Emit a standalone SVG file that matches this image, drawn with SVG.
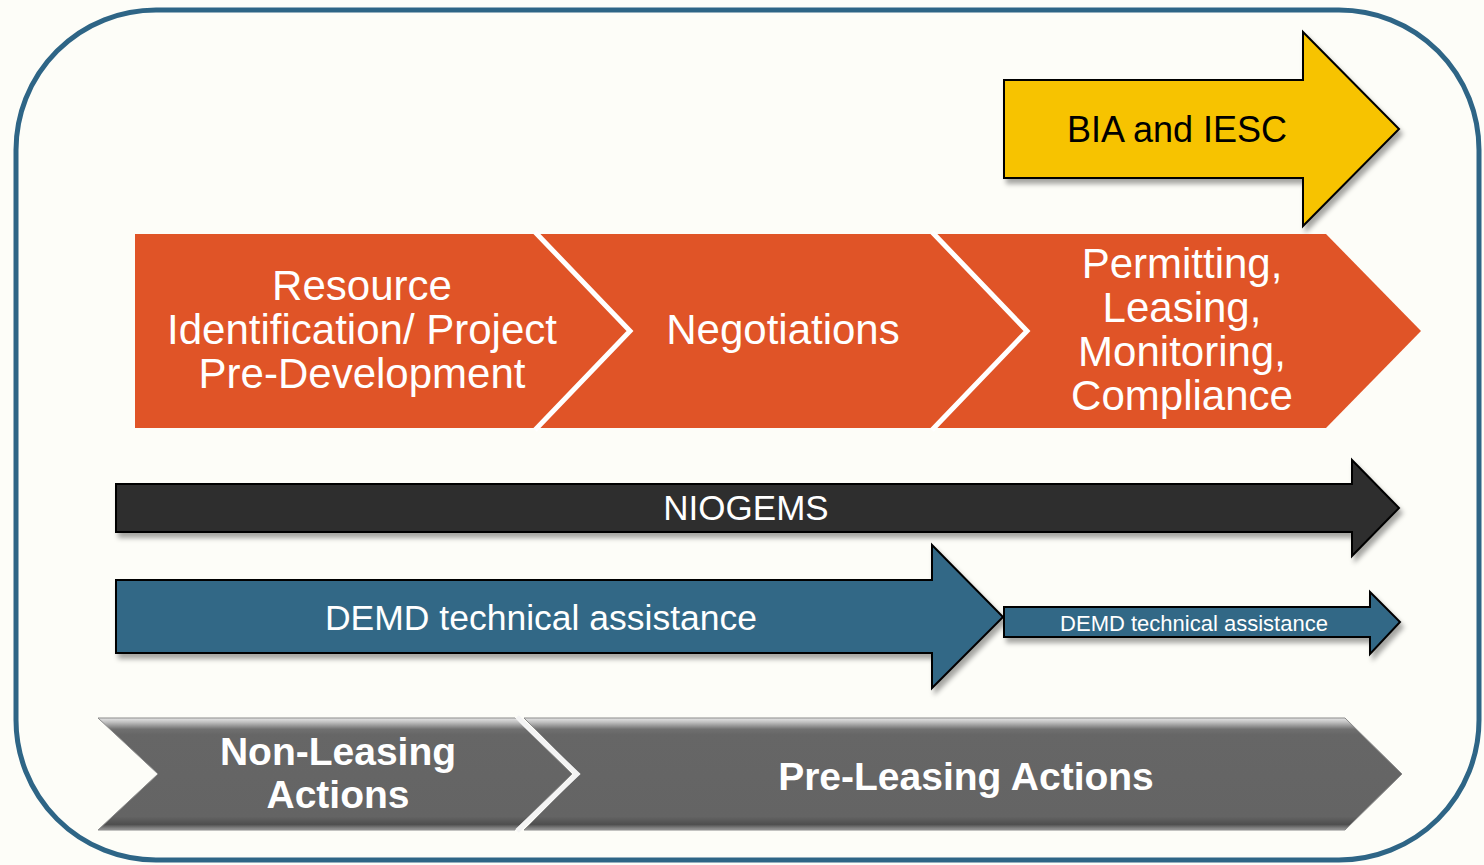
<svg xmlns="http://www.w3.org/2000/svg" width="1484" height="865" viewBox="0 0 1484 865">
<defs>
<filter id="shadow" x="-5%" y="-20%" width="110%" height="150%">
<feDropShadow dx="3" dy="5" stdDeviation="2.5" flood-color="#000" flood-opacity="0.35"/>
</filter>
<linearGradient id="bevel" x1="0" y1="0" x2="0" y2="1">
<stop offset="0" stop-color="#e6e6e6"/>
<stop offset="0.04" stop-color="#bdbdbd"/>
<stop offset="0.1" stop-color="#707070"/>
<stop offset="0.15" stop-color="#666666"/>
<stop offset="0.88" stop-color="#646464"/>
<stop offset="0.95" stop-color="#4e4e4e"/>
<stop offset="1" stop-color="#9a9a9a"/>
</linearGradient>
</defs>
<style>
text{font-family:"Liberation Sans",Arial,sans-serif;text-anchor:middle}
.w{fill:#ffffff}
.b{fill:#000000}
.bold{font-weight:bold}
.arr{stroke:#000;stroke-width:2;stroke-linejoin:miter;filter:url(#shadow)}
.sep{fill:none;stroke:#ffffff;stroke-width:5;stroke-linejoin:miter}
.gsep{fill:none;stroke:#f4f4f4;stroke-width:5;stroke-linejoin:miter}
</style>
<rect x="0" y="0" width="1484" height="865" fill="#FDFDF8"/>
<rect id="frame" x="16" y="10" width="1463" height="850" rx="140" ry="140" fill="#FDFDF8" stroke="#2E6586" stroke-width="5"/>

<g id="bia">
<path class="arr" d="M1004,80 H1303 V32 L1399,129 L1303,226 V178 H1004 Z" fill="#F7C300"/>
<text class="b" x="1177" y="142" font-size="36">BIA and IESC</text>
</g>

<g id="process">
<path d="M135,234 H1326 L1421,331 L1326,428 H135 Z" fill="#E05427"/>
<polyline class="sep" points="535,232 630,331 535,430"/>
<polyline class="sep" points="932,232 1027,331 932,430"/>
</g>
<g id="resource">
<text class="w" x="362" y="300" font-size="42">Resource</text>
<text class="w" x="362" y="344" font-size="42">Identification/ Project</text>
<text class="w" x="362" y="388" font-size="42">Pre-Development</text>
</g>
<g id="negotiations">
<text class="w" x="783" y="344" font-size="42">Negotiations</text>
</g>
<g id="permitting">
<text class="w" x="1182" y="278" font-size="42">Permitting,</text>
<text class="w" x="1182" y="322" font-size="42">Leasing,</text>
<text class="w" x="1182" y="366" font-size="42">Monitoring,</text>
<text class="w" x="1182" y="410" font-size="42">Compliance</text>
</g>

<g id="niogems">
<path class="arr" d="M116,484 H1352 V460 L1399,508 L1352,556 V532 H116 Z" fill="#2E2E2E"/>
<text class="w" x="746" y="520" font-size="35">NIOGEMS</text>
</g>

<g id="demd1">
<path class="arr" d="M116,580 H932 V545 L1003,617 L932,688 V653 H116 Z" fill="#326886"/>
<text class="w" x="541" y="630" font-size="35.5">DEMD technical assistance</text>
</g>

<g id="demd2">
<path class="arr" d="M1004,607 H1370 V592 L1400,622 L1370,654 V637 H1004 Z" fill="#326886"/>
<text class="w" x="1194" y="631" font-size="22">DEMD technical assistance</text>
</g>

<g id="nonleasing">
<path d="M98,718 H515 L572,774 L515,830 H98 L158,774 Z" fill="url(#bevel)" stroke="#8a8a8a" stroke-width="1"/>
<text class="w bold" x="338" y="765" font-size="39">Non-Leasing</text>
<text class="w bold" x="338" y="808" font-size="39">Actions</text>
</g>
<g id="preleasing">
<path d="M524,718 H1345 L1402,774 L1345,830 H524 L580,774 Z" fill="url(#bevel)" stroke="#8a8a8a" stroke-width="1"/>
<polyline class="gsep" points="517,717 577,774 517,831"/>
<text class="w bold" x="966" y="790" font-size="39">Pre-Leasing Actions</text>
</g>

<g id="connectors"/>
</svg>
